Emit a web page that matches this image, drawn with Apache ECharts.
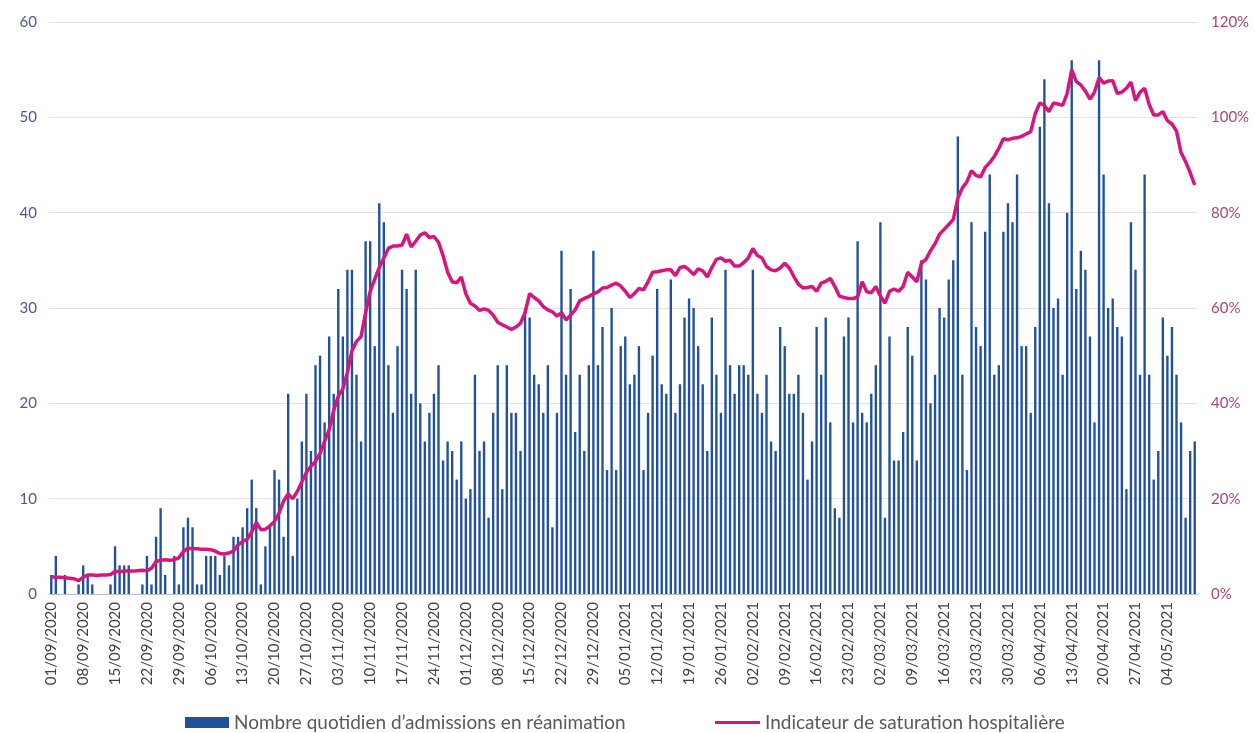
<!DOCTYPE html>
<html>
<head>
<meta charset="utf-8">
<title>Admissions en réanimation</title>
<script src="https://cdn.jsdelivr.net/npm/echarts@6/dist/echarts.min.js"></script>
<style>
  html, body { margin: 0; padding: 0; background: #fff; }
  #chart { width: 1255px; height: 733px; }
</style>
</head>
<body>
<div id="chart"></div>
<script>
// daily admissions, one array per month (01/09/2020 -> 10/05/2021)
const admSep = [2,4,0,2,0,0,1,3,2,1, 0,0,0,1,5,3,3,3,0,0, 1,4,1,6,9,2,0,4,1,7];
const admOct = [8,7,1,1,4,4,4,2,4,3, 6,6,7,9,12,9,1,5,7,13, 12,6,21,4,10,16,21,15,24,25, 18];
const admNov = [27,21,32,27,34,34,23,16,37,37, 26,41,39,24,19,26,34,32,21,34, 20,16,19,21,24,14,16,15,12,16];
const admDec = [10,11,23,15,16,8,19,24,11,24, 19,19,15,30,29,23,22,19,24,7, 19,36,23,32,17,23,15,24,36,24, 28];
const admJan = [13,30,13,26,27,22,23,26,13,19, 25,32,22,21,33,19,22,29,31,30, 26,22,15,29,23,19,34,24,21,24, 24];
const admFeb = [23,34,21,19,23,16,15,28,26,21, 21,23,19,12,16,28,23,29,18,9, 8,27,29,18,37,19,18,21];
const admMar = [24,39,8,27,14,14,17,28,25,14, 35,33,20,23,30,29,33,35,48,23, 13,39,28,26,38,44,23,24,38,41, 39];
const admApr = [44,26,26,19,28,49,54,41,30,31, 23,40,56,32,36,34,27,18,56,44, 30,31,28,27,11,39,34,23,44,23];
const admMay = [12,15,29,25,28,23,18,8,15,16];

// indicateur de saturation hospitalière (%), same days
const satSep = [3.6,3.5,3.5,3.4,3.3,3.2,2.8,3.5,4.0,4.0, 3.9,4.0,4.0,4.1,4.7,4.7,4.8,4.8,4.8,4.9, 5.0,4.9,5.4,6.8,7.1,7.2,7.1,7.2,7.6,8.9];
const satOct = [9.6,9.5,9.5,9.4,9.4,9.3,9.0,8.5,8.4,8.6, 9.0,10.3,11.0,11.5,13.0,15.0,13.5,13.6,14.3,15.2, 17.0,19.5,21.0,20.0,21.5,23.5,25.5,26.8,27.8,29.5, 32.0];
const satNov = [34.5,38.5,41.5,43.0,46.5,51.0,53.0,54.0,59.0,63.5, 66.0,68.5,70.5,72.5,73.0,73.0,73.2,75.5,72.8,74.0, 75.3,75.8,74.8,75.0,73.8,71.0,67.5,65.5,65.3,66.5];
const satDec = [63.0,61.0,60.4,59.5,59.8,59.5,58.5,57.0,56.5,56.0, 55.5,56.0,56.8,59.0,63.0,62.2,61.5,60.3,59.6,59.2, 58.3,59.0,57.5,58.5,59.6,61.5,62.0,62.4,63.0,63.4, 64.2];
const satJan = [64.3,64.8,65.2,64.6,63.5,62.2,63.0,64.1,63.8,65.5, 67.5,67.6,67.8,68.0,68.0,66.8,68.5,68.7,68.0,67.0, 68.2,67.8,66.5,68.5,70.2,70.5,69.8,70.0,68.8,68.8, 69.5];
const satFeb = [70.5,72.5,71.0,70.5,68.7,68.0,67.8,68.4,69.4,68.4, 66.6,65.0,64.2,64.3,64.5,63.5,65.2,65.6,66.2,64.5, 62.5,62.2,62.0,62.0,62.3,65.5,63.4,63.2];
const satMar = [64.5,62.5,61.0,63.5,64.0,63.5,64.5,67.5,66.5,65.5, 69.4,70.2,72.0,73.5,75.5,76.5,77.5,78.6,83.0,85.2, 86.5,88.8,87.8,87.5,89.5,90.5,91.8,93.5,95.5,95.3, 95.6];
const satApr = [95.7,96.0,96.5,97.0,100.8,103.0,102.5,101.2,103.0,102.8, 102.5,105.0,110.0,107.5,106.8,105.5,103.8,105.3,108.3,107.2, 107.6,107.7,105.0,105.3,106.1,107.4,103.5,105.3,106.1,102.7];
const satMay = [100.5,100.5,101.2,99.3,98.6,97.1,92.6,90.7,88.4,85.8];

const monthDays = [[2020, 9, 30], [2020, 10, 31], [2020, 11, 30], [2020, 12, 31],
                   [2021, 1, 31], [2021, 2, 28], [2021, 3, 31], [2021, 4, 30], [2021, 5, 10]];

const pad = n => (n < 10 ? '0' : '') + n;
const dates = [];
monthDays.forEach(([y, m, n]) => {
  for (let d = 1; d <= n; d++) dates.push(pad(d) + '/' + pad(m) + '/' + y);
});

const admissions = [].concat(admSep, admOct, admNov, admDec, admJan, admFeb, admMar, admApr, admMay);
const saturation = [].concat(satSep, satOct, satNov, satDec, satJan, satFeb, satMar, satApr, satMay);

const barName = 'Nombre quotidien d\u2019admissions en réanimation';
const lineName = 'Indicateur de saturation hospitalière';

const font = 'Lato, "Open Sans", sans-serif';
const chart = echarts.init(document.getElementById('chart'));

chart.setOption({
  animation: false,
  textStyle: { fontFamily: font },
  grid: { left: 49, right: 58, top: 22, bottom: 139 },
  legend: [{
    data: [barName],
    left: 185, top: 713, padding: 0,
    itemWidth: 44, itemHeight: 11, itemGap: 4,
    icon: 'rect',
    textStyle: { fontSize: 19, color: '#595959', fontFamily: font }
  }, {
    data: [lineName],
    left: 715, top: 713, padding: 0,
    itemWidth: 45, itemHeight: 3, itemGap: 4,
    icon: 'rect',
    textStyle: { fontSize: 19, color: '#595959', fontFamily: font }
  }],
  xAxis: {
    type: 'category',
    data: dates,
    axisLine: { lineStyle: { color: '#bfbfbf' } },
    axisTick: { interval: 6, alignWithLabel: true, length: 5, lineStyle: { color: '#bfbfbf' } },
    axisLabel: { interval: 6, rotate: 90, color: '#404040', fontSize: 15, margin: 8 }
  },
  yAxis: [{
    type: 'value',
    min: 0, max: 60, interval: 10,
    axisLine: { show: false },
    axisTick: { show: false },
    axisLabel: { color: '#4a5a8c', fontSize: 15, margin: 12 },
    splitLine: { lineStyle: { color: '#e3e3e3' } }
  }, {
    type: 'value',
    min: 0, max: 120, interval: 20,
    axisLine: { show: false },
    axisTick: { show: false },
    axisLabel: { formatter: '{value}%', color: '#a8487f', fontSize: 15, margin: 14 },
    splitLine: { show: false }
  }],
  series: [{
    name: barName,
    type: 'bar',
    data: admissions,
    barWidth: '52%',
    itemStyle: { color: '#21519e' }
  }, {
    name: lineName,
    type: 'line',
    yAxisIndex: 1,
    data: saturation,
    symbol: 'none',
    lineStyle: { color: '#d8157d', width: 3.5 },
    itemStyle: { color: '#d8157d' }
  }]
});
</script>
</body>
</html>
